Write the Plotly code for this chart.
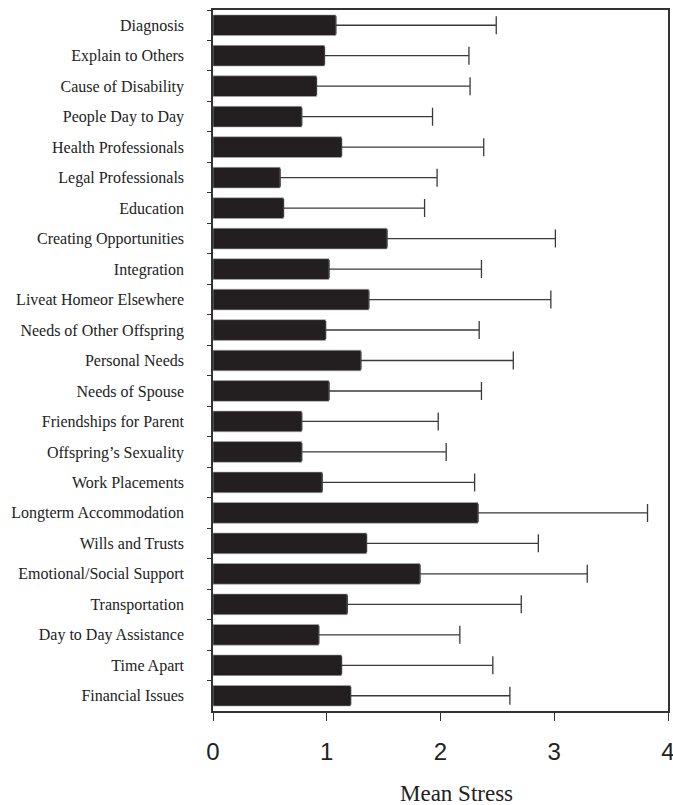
import plotly.graph_objects as go

categories = [
    "Diagnosis", "Explain to Others", "Cause of Disability", "People Day to Day",
    "Health Professionals", "Legal Professionals", "Education", "Creating Opportunities",
    "Integration", "Liveat Homeor Elsewhere", "Needs of Other Offspring", "Personal Needs",
    "Needs of Spouse", "Friendships for Parent", "Offspring\u2019s Sexuality", "Work Placements",
    "Longterm Accommodation", "Wills and Trusts", "Emotional/Social Support", "Transportation",
    "Day to Day Assistance", "Time Apart", "Financial Issues",
]
mean_stress = [
    1.08, 0.98, 0.91, 0.78, 1.13, 0.59, 0.62, 1.53, 1.02, 1.37, 0.99, 1.30,
    1.02, 0.78, 0.78, 0.96, 2.33, 1.35, 1.82, 1.18, 0.93, 1.13, 1.21,
]
sd_stress = [
    1.41, 1.27, 1.35, 1.15, 1.25, 1.38, 1.24, 1.48, 1.34, 1.60, 1.35, 1.34,
    1.34, 1.20, 1.27, 1.34, 1.49, 1.51, 1.47, 1.53, 1.24, 1.33, 1.40,
]
x_ticks = [0, 1, 2, 3, 4]

fig = go.Figure(go.Bar(
    x=mean_stress, y=categories, orientation="h",
    marker=dict(color="#231f20", line=dict(color="#b0b0b0", width=0.6)),
    error_x=dict(type="data", array=sd_stress, arrayminus=[0] * len(sd_stress),
                 symmetric=False, color="#3a3a3a", thickness=1.3, width=9),
))

fig.update_layout(
    width=673, height=805,
    margin=dict(l=213, r=5, t=10, b=94, autoexpand=False),
    paper_bgcolor="white", plot_bgcolor="white",
    bargap=0.32, showlegend=False,
)
fig.update_xaxes(
    range=[0, 4], tickvals=x_ticks, ticktext=[str(v) for v in x_ticks],
    ticks="outside", ticklen=8, tickwidth=1.3, tickcolor="#333",
    showline=True, linecolor="#333", linewidth=1.5, mirror=True,
    showgrid=False, zeroline=False, automargin=False,
    ticklabeloverflow="allow",
    tickfont=dict(family="Liberation Sans, Arial, sans-serif", size=24, color="#222"),
    ticklabelstandoff=10,
)
fig.update_yaxes(
    autorange="reversed", tickson="boundaries",
    ticks="outside", ticklen=4, tickwidth=1.2, tickcolor="#333",
    showline=True, linecolor="#333", linewidth=1.5, mirror=True,
    showgrid=False, automargin=False,
    tickfont=dict(family="Liberation Serif, Times New Roman, serif", size=16, color="#222"),
    ticklabelstandoff=24,
)
fig.add_annotation(
    text="Mean Stress", xref="paper", yref="paper", x=0.536, y=-0.117,
    xanchor="center", yanchor="middle", showarrow=False,
    font=dict(family="Liberation Serif, Times New Roman, serif", size=23, color="#222"),
)

fig.write_html("out.html")
